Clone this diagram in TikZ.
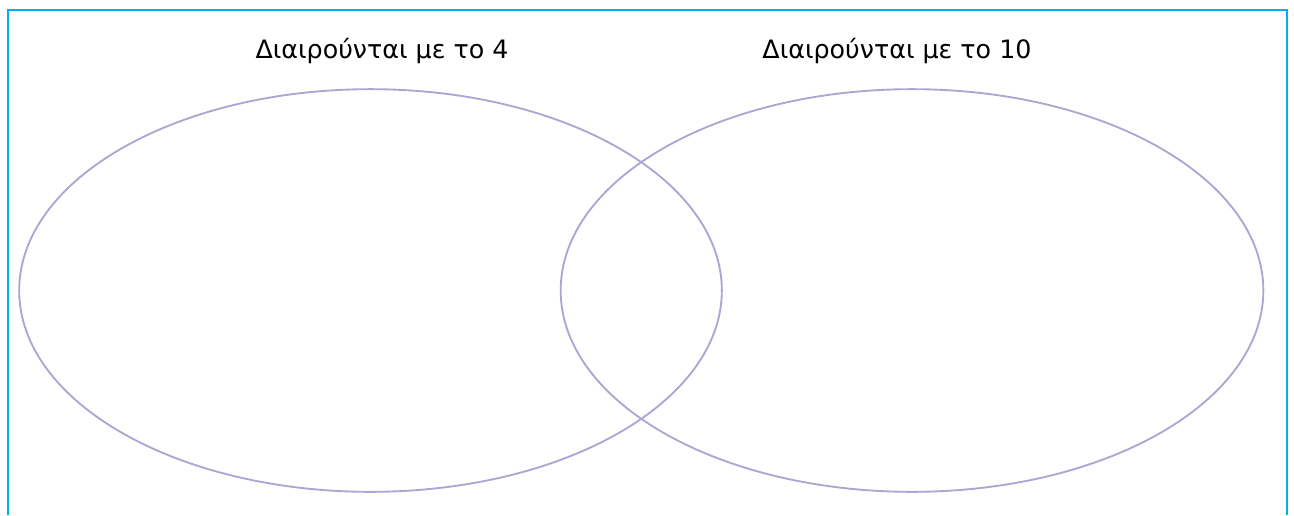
\documentclass[tikz,border=0pt]{standalone}
\usepackage{fontspec}
\setmainfont{DejaVu Sans}
\usepackage{tikz}
\usetikzlibrary{shapes.geometric}
\definecolor{frameblue}{HTML}{00B0F0}
\definecolor{setlilac}{HTML}{B0A4D4}

\begin{document}
\begin{tikzpicture}[x=0.75pt,y=-0.75pt,
				setshape/.style={draw=setlilac, ellipse, line width=1.4pt, minimum width=527pt, minimum height=302pt, inner sep=0pt},
				setlabel/.style={font=\fontsize{19}{22}\selectfont, inner sep=0pt}]
				\useasboundingbox (0,0) rectangle (1294,515);
				\draw[frameblue, line width=2pt] (8,515) -- (8,10) -- (1287,10) -- (1287,515);
				\node[setshape] (four) at (370.5,290.5) {};
				\node[setshape] (ten)  at (912,290.5)   {};
				\node[setlabel] (lfour) at (382,51) {Διαιρούνται με το 4};
				\node[setlabel] (lten)  at (897,51) {Διαιρούνται με το 10};
			\end{tikzpicture}
\end{document}
